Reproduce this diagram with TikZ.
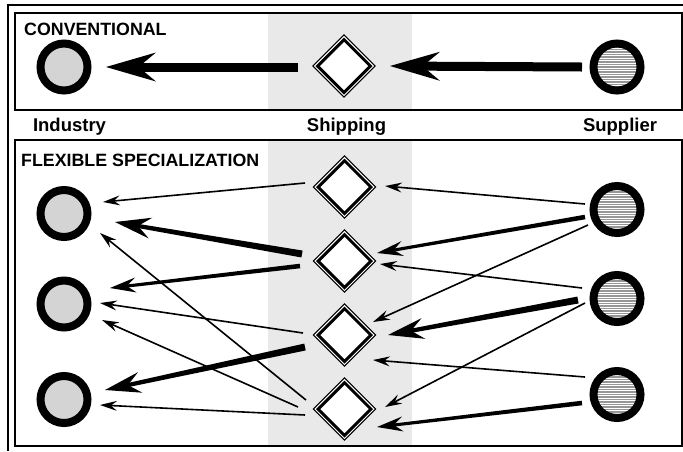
\documentclass[tikz,border=0pt]{standalone}
\usepackage{fontspec}
\setmainfont{Liberation Sans}
\usetikzlibrary{calc,shapes.geometric}
\definecolor{bandgray}{RGB}{233,233,233}
\definecolor{dotgray}{RGB}{212,212,212}
\definecolor{stripegray}{RGB}{150,150,150}
\newcommand\flowarrow[8]{%
  \coordinate (fa-s) at ($(#1)+(#2)$);
  \coordinate (fa-t) at ($(#3)+(#4)$);
  \coordinate (fa-b) at ($(fa-t)!#7!(fa-s)$);
  \coordinate (fa-i) at ($(fa-t)!0.65*#7!(fa-s)$);
  \coordinate (fa-e) at ($(fa-t)!0.45*#7!(fa-s)$);
  \fill ($(fa-s)!0.5*#5!90:(fa-t)$) -- ($(fa-e)!0.5*#6!-90:(fa-s)$) --
        ($(fa-e)!0.5*#6!90:(fa-s)$) -- ($(fa-s)!0.5*#5!-90:(fa-t)$) -- cycle;
  \fill (fa-t) -- ($(fa-b)!0.5*#8!90:(fa-t)$) -- (fa-i) --
        ($(fa-b)!0.5*#8!-90:(fa-t)$) -- cycle;
}
\newcommand\thinarrow[4]{\flowarrow{#1}{#2}{#3}{#4}{1.6pt}{1.6pt}{17pt}{10pt}}
\newcommand\medarrow[4]{\flowarrow{#1}{#2}{#3}{#4}{4.6pt}{3pt}{26pt}{15pt}}
\newcommand\thickarrow[4]{\flowarrow{#1}{#2}{#3}{#4}{7pt}{4pt}{36pt}{21pt}}
\tikzset{
  indbox/.style={circle, draw, line width=8pt, minimum size=47pt, inner sep=0pt, fill=dotgray},
  supbox/.style={circle, draw, line width=8pt, minimum size=47pt, inner sep=0pt, fill=white,
    path picture={\foreach \k in {-25,-22.5,...,25}
      \draw[stripegray, line width=1.6pt] ([yshift=\k pt]path picture bounding box.west) -- ([yshift=\k pt]path picture bounding box.east);}},
  shipbox/.style={diamond, aspect=1, draw, line width=3pt, fill=white,
    minimum width=54pt, minimum height=54pt, inner sep=0pt,
    preaction={draw=black, line width=7.8pt},
    preaction={draw=white, line width=5.4pt}},
  framebox/.style={line width=2pt},
  heading/.style={anchor=base west, inner sep=0pt, font=\fontsize{17.8}{20}\selectfont\bfseries},
  colname/.style={anchor=base, inner sep=0pt, font=\fontsize{18.5}{21}\selectfont\bfseries},
}
\begin{document}
\begin{tikzpicture}[x=1pt, y=-1pt]
\useasboundingbox (0,0) rectangle (683,451);
% shipping band
\fill[bandgray] (268,13) rectangle (412,110);
\fill[bandgray] (268,139.5) rectangle (412,446);
% frames
\draw[framebox] (8,451) -- (8,5.2) -- (683,5.2);
\draw[framebox] (15,13) rectangle (681.5,110);
\draw[framebox] (15,139.5) rectangle (681.5,446);
% texts
\node[heading] (hconv) at (24,35) {CONVENTIONAL};
\node[heading] (hflex) at (21,166) {FLEXIBLE SPECIALIZATION};
\node[colname] (lind) at (69.5,131) {Industry};
\node[colname] (lship) at (346.5,131) {Shipping};
\node[colname] (lsup) at (620,131) {Supplier};
% conventional nodes
\node[indbox] (i0) at (64,67) {};
\node[shipbox] (d0) at (344,66) {};
\node[supbox] (s0) at (617,67) {};
% flexible nodes
\node[indbox] (i1) at (64,213.5) {};
\node[indbox] (i2) at (64,304) {};
\node[indbox] (i3) at (64,399.5) {};
\node[shipbox] (d1) at (344.5,187) {};
\node[shipbox] (d2) at (344.5,261) {};
\node[shipbox] (d3) at (344.5,335) {};
\node[shipbox] (d4) at (344.5,409) {};
\node[supbox] (s1) at (617,209.5) {};
\node[supbox] (s2) at (617,298.5) {};
\node[supbox] (s3) at (617,394.5) {};
% conventional arrows
\flowarrow{s0}{-35,0}{d0}{46,0}{9pt}{9pt}{50pt}{29pt}
\flowarrow{d0}{-46,1}{i0}{42,0}{9pt}{9pt}{50pt}{29pt}
% shipping -> industry
\thinarrow{d1}{-39.5,-4}{i1}{39,-11.5}
\thickarrow{d2}{-42.5,-7}{i1}{51,8.5}
\medarrow{d2}{-44.5,5}{i2}{46,-16}
\thinarrow{d4}{-38.5,-9}{i1}{36,19.5}
\thinarrow{d3}{-41.5,-2}{i2}{36,-1}
\thinarrow{d4}{-46.5,-2}{i2}{38,16}
\thickarrow{d3}{-39.5,12}{i3}{41,-9.5}
\thinarrow{d4}{-39.5,6}{i3}{36,5.5}
% supplier -> shipping
\thinarrow{s1}{-32,-5.5}{d1}{40.5,-1}
\medarrow{s1}{-32,7.5}{d2}{32.5,-8}
\thinarrow{s1}{-29,15.5}{d3}{28.5,-13}
\thinarrow{s2}{-35,-10.5}{d2}{35.5,3}
\thickarrow{s2}{-39,1.5}{d3}{43.5,0}
\thinarrow{s2}{-32,4.5}{d4}{40.5,-2}
\thinarrow{s3}{-32,-17.5}{d3}{28.5,25}
\medarrow{s3}{-35,8.5}{d4}{32.5,18}
\end{tikzpicture}
\end{document}
